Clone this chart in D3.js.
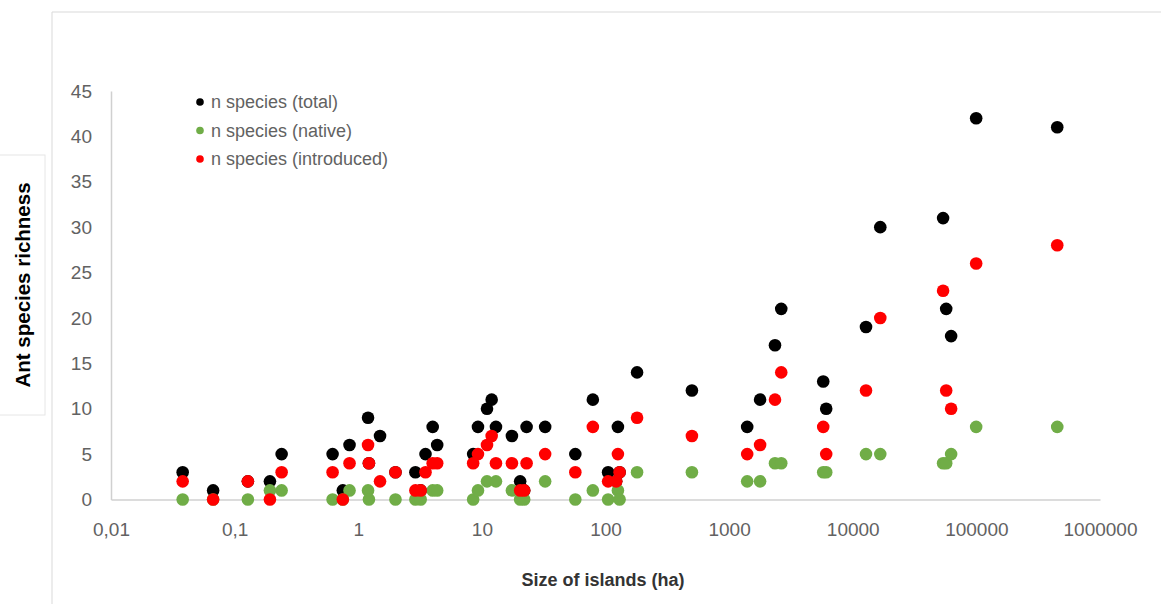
<!DOCTYPE html>
<meta charset="utf-8">
<style>
  body { margin: 0; background: #fff; }
  text { font-family: "Liberation Sans", Arial, sans-serif; }
</style>
<script src="https://cdn.jsdelivr.net/npm/d3@7"></script>
<div id="chart"></div>
<script>
// island sizes (ha) and species counts (null = not visible)
var areas      = [0.038, 0.067, 0.128, 0.193, 0.24, 0.62, 0.75, 0.85, 1.2, 1.22, 1.5, 2.0, 2.9, 3.2, 3.5, 4.0, 4.35,
                  8.5, 9.3, 11, 12, 13, 17.5, 20.4, 22, 23, 32.5, 57, 79, 105, 122, 126, 130, 180, 500,
                  1400, 1780, 2350, 2640, 5770, 6100, 12800, 16700, 53800, 57000, 62500, 99600, 451000];
var total      = [3, 1, 2, 2, 5, 5, 1, 6, 9, 4, 7, 3, 3, 1, 5, 8, 6,
                  5, 8, 10, 11, 8, 7, 2, 1, 8, 8, 5, 11, 3, 2, 8, 3, 14, 12,
                  8, 11, 17, 21, 13, 10, 19, 30, 31, 21, 18, 42, 41];
var native     = [0, 0, 0, 1, 1, 0, 0, 1, 1, 0, null, 0, 0, 0, null, 1, 1,
                  0, 1, 2, null, 2, 1, 0, 0, null, 2, 0, 1, 0, null, 1, 0, 3, 3,
                  2, 2, 4, 4, 3, 3, 5, 5, 4, 4, 5, 8, 8];
var introduced = [2, 0, 2, 0, 3, 3, 0, 4, 6, 4, 2, 3, 1, 1, 3, 4, 4,
                  4, 5, 6, 7, 4, 4, 1, 1, 4, 5, 3, 8, 2, 2, 5, 3, 9, 7,
                  5, 6, 11, 14, 8, 5, 12, 20, 23, 12, 10, 26, 28];

var seriesNames  = ["n species (total)", "n species (native)", "n species (introduced)"];
var seriesColors = ["#000000", "#70ad47", "#ff0000"];
var xTicks = [0.01, 0.1, 1, 10, 100, 1000, 10000, 100000, 1000000];
var yTicks = [0, 5, 10, 15, 20, 25, 30, 35, 40, 45];

var W = 1161, H = 604;
var svg = d3.select("#chart").append("svg").attr("width", W).attr("height", H);

// chart area border (only left and top visible)
svg.append("path").attr("d", "M52,604V12H1161").attr("fill", "none").attr("stroke", "#d9d9d9");

var x = d3.scaleLog().domain([0.01, 1000000]).range([111, 1100]);
var y = d3.scaleLinear().domain([0, 45]).range([499.5, 91]);

var fmt = function(d) { return String(d).replace(".", ","); };

var gx = svg.append("g").attr("transform", "translate(0," + y(0) + ")")
  .call(d3.axisBottom(x).tickValues(xTicks).tickFormat(fmt).tickSize(0).tickPadding(23));
var gy = svg.append("g").attr("transform", "translate(" + x(0.01) + ",0)")
  .call(d3.axisLeft(y).tickValues(yTicks).tickSize(0).tickPadding(19));

[gx, gy].forEach(function(g) {
  g.select(".domain").attr("stroke", "#d0d0d0").attr("stroke-width", 1.5);
  g.selectAll("text").attr("fill", "#626262").style("font-size", "19px").style("font-family", "Liberation Sans, Arial, sans-serif");
});

// points: total, native, introduced (introduced drawn last)
var lists = [total, native, introduced];
lists.forEach(function(vals, i) {
  svg.append("g").selectAll("circle")
    .data(areas.map(function(a, k) { return {a: a, v: vals[k]}; }).filter(function(d) { return d.v != null; }))
    .enter().append("circle")
      .attr("cx", function(d) { return x(d.a); })
      .attr("cy", function(d) { return y(d.v); })
      .attr("r", 6.3)
      .attr("fill", seriesColors[i]);
});

// legend
var lg = svg.append("g");
seriesNames.forEach(function(name, i) {
  var yy = 102 + i * 28.5;
  lg.append("circle").attr("cx", 200).attr("cy", yy).attr("r", 3.8).attr("fill", seriesColors[i]);
  lg.append("text").attr("x", 211).attr("y", yy).attr("dy", "0.35em")
    .attr("fill", "#626262").style("font-size", "18px").text(name);
});

// axis titles
svg.append("text").attr("x", 603).attr("y", 586).attr("text-anchor", "middle")
  .style("font-size", "18px").style("font-weight", "bold").attr("fill", "#333")
  .text("Size of islands (ha)");

svg.append("rect").attr("x", -1).attr("y", 155).attr("width", 46).attr("height", 260)
  .attr("fill", "#fff").attr("stroke", "#e6e6e6");
svg.append("text").attr("transform", "translate(30,285) rotate(-90)").attr("text-anchor", "middle")
  .style("font-size", "20.5px").style("font-weight", "bold").attr("fill", "#000")
  .text("Ant species richness");
</script>
